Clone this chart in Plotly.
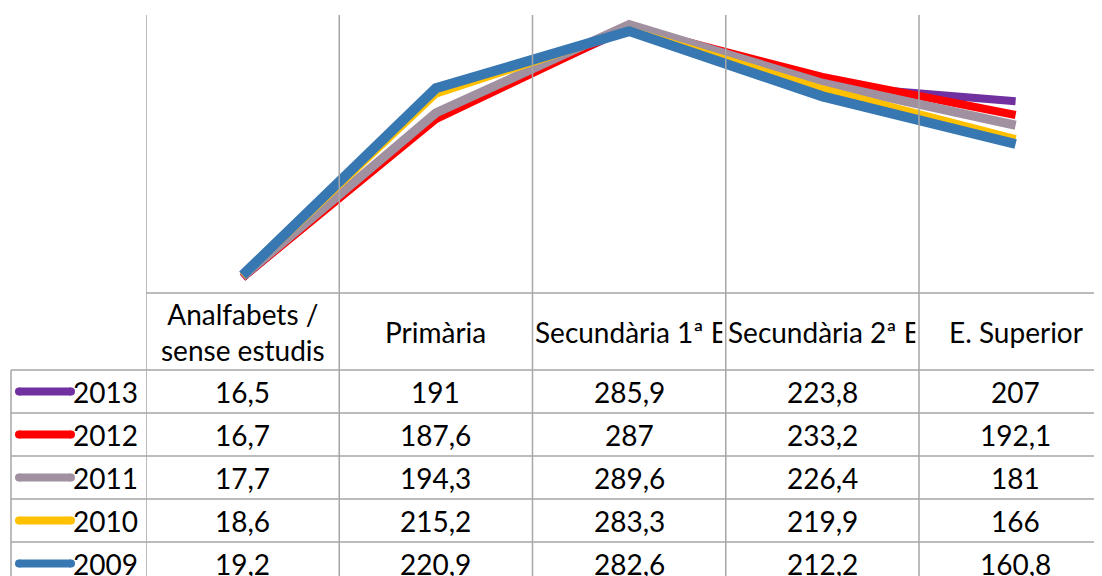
import plotly.graph_objects as go

# categories (column headers of the data table)
categories = ["Analfabets /<br>sense estudis", "Primària", "Secundària 1ª Etapa",
              "Secundària 2ª Etapa", "E. Superior"]
years = ["2013", "2012", "2011", "2010", "2009"]

v2013 = [16.5, 191, 285.9, 223.8, 207]
v2012 = [16.7, 187.6, 287, 233.2, 192.1]
v2011 = [17.7, 194.3, 289.6, 226.4, 181]
v2010 = [18.6, 215.2, 283.3, 219.9, 166]
v2009 = [19.2, 220.9, 282.6, 212.2, 160.8]

series = [v2013, v2012, v2011, v2010, v2009]
colors = ["#7030A0", "#FF0000", "#A090A0", "#FFC000", "#3878B2"]
widths = [8, 8, 9, 8, 10]

# the page body adds an 8px margin, so work in page pixels and shift
OFF = 8
W, H = 1102 - OFF, 576 - OFF
plot_left, plot_top, plot_bottom = 146, 15, 293
col_w = 193.25
header_bottom = 370
row_h = 43
grid = "#A6A6A6"
font = "Lato"
fsize = 28


def px_x(px):
    return (px - OFF) / W


def py(px):
    # page pixel row -> paper y
    return 1 - (px - OFF) / H


fig = go.Figure()
x = list(range(len(categories)))
for name, vals, c, w in zip(years, series, colors, widths):
    fig.add_trace(go.Scatter(x=x, y=vals, mode="lines", name=name,
                             line=dict(color=c, width=w), showlegend=False))

shapes = []
# vertical grid/table lines
for i in range(len(categories)):
    shapes.append(dict(type="line", xref="x", yref="paper", x0=i - 0.5, x1=i - 0.5,
                       y0=0, y1=py(plot_top), line=dict(color=grid, width=1.5)))
# axis line / header top
shapes.append(dict(type="line", xref="paper", yref="paper", x0=px_x(plot_left), x1=1,
                   y0=py(plot_bottom), y1=py(plot_bottom), line=dict(color=grid, width=1.5)))
# row lines
for r in range(len(years)):
    yy = header_bottom + r * row_h
    shapes.append(dict(type="line", xref="paper", yref="paper", x0=px_x(11), x1=1,
                       y0=py(yy), y1=py(yy), line=dict(color=grid, width=1.5)))
shapes.append(dict(type="line", xref="paper", yref="paper", x0=px_x(11), x1=px_x(11),
                   y0=0, y1=py(header_bottom), line=dict(color=grid, width=1.5)))

annotations = []
# headers
for i, cat in enumerate(categories):
    if cat.startswith("Secundària"):
        annotations.append(dict(xref="x", yref="paper", x=i - 0.5, y=py((plot_bottom + header_bottom) / 2),
                                text=cat, showarrow=False, xanchor="left", yanchor="middle",
                                width=col_w - 6, align="left",
                                font=dict(family=font, size=fsize, color="black")))
    else:
        annotations.append(dict(xref="x", yref="paper", x=i, y=py((plot_bottom + header_bottom) / 2),
                                text=cat, showarrow=False, xanchor="center", yanchor="middle",
                                font=dict(family=font, size=fsize, color="black")))

# rows: legend key + values
for r, (name, vals, c) in enumerate(zip(years, series, colors)):
    yc = header_bottom + (r + 0.5) * row_h
    shapes.append(dict(type="line", xref="paper", yref="paper", x0=px_x(19), x1=px_x(71),
                       y0=py(yc), y1=py(yc), line=dict(color=c, width=8)))
    for cx in (19, 71):
        shapes.append(dict(type="circle", xref="paper", yref="paper",
                           x0=px_x(cx - 4), x1=px_x(cx + 4), y0=py(yc + 4), y1=py(yc - 4),
                           fillcolor=c, line=dict(width=0)))
    annotations.append(dict(xref="paper", yref="paper", x=px_x(140), y=py(yc), text=name,
                            showarrow=False, xanchor="right", yanchor="middle",
                            font=dict(family=font, size=fsize, color="black")))
    for i, v in enumerate(vals):
        annotations.append(dict(xref="x", yref="paper", x=i, y=py(yc),
                                text=f"{v:g}".replace(".", ","), showarrow=False,
                                xanchor="center", yanchor="middle",
                                font=dict(family=font, size=fsize, color="black")))

fig.update_layout(
    width=W, height=H,
    margin=dict(l=0, r=0, t=0, b=0),
    paper_bgcolor="white", plot_bgcolor="white",
    xaxis=dict(domain=[px_x(plot_left), 1], range=[-0.5, -0.5 + (1102 - plot_left) / col_w],
               showgrid=False, showticklabels=False, zeroline=False, fixedrange=True),
    yaxis=dict(domain=[py(plot_bottom), py(plot_top)], range=[0, 300],
               showgrid=False, showticklabels=False, zeroline=False),
    shapes=shapes,
    annotations=annotations,
)

fig.write_html("out.html")
